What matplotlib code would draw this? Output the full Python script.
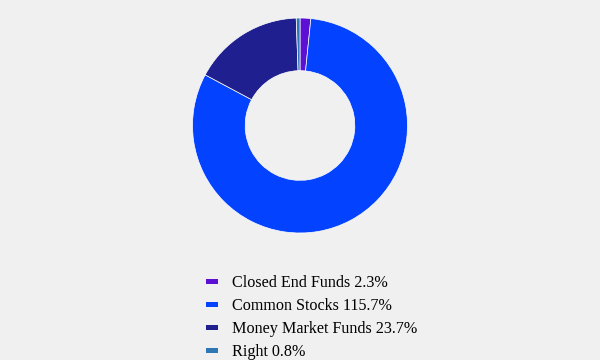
import matplotlib.pyplot as plt
from matplotlib.patches import Patch

labels = ["Closed End Funds", "Common Stocks", "Money Market Funds", "Right"]
values = [2.3, 115.7, 23.7, 0.8]
colors = ["#5c10d4", "#0343ff", "#1f1f8f", "#2e76b4"]

bg = "#f0f0f0"
fig = plt.figure(figsize=(6, 3.6), dpi=100, facecolor=bg)

# donut
ax = fig.add_axes([192.5 / 600, 1 - 233 / 360, 215 / 600, 215 / 360])
ax.set_facecolor(bg)
ax.pie(values, colors=colors, startangle=90, counterclock=False,
       radius=1.0, wedgeprops=dict(width=0.49, edgecolor="white", linewidth=0.5))
ax.set_xlim(-1, 1)
ax.set_ylim(-1, 1)
ax.set_aspect("equal")
ax.axis("off")

# legend
handles = [Patch(facecolor=c, edgecolor="none") for c in colors]
texts = [f"{l} {v}%" for l, v in zip(labels, values)]
leg = fig.legend(handles, texts, loc="upper left", bbox_to_anchor=(206 / 600, 1 - 275 / 360),
                 frameon=False, prop={"family": "Liberation Serif", "size": 11.6},
                 handlelength=0.75, handleheight=0.7, handletextpad=0.85, labelspacing=0.44,
                 borderaxespad=0, borderpad=0)
for p in leg.get_patches():
    y0 = p.get_y()
    h = p.get_height()
    p.set_height(h * 0.45)
    p.set_y(y0 + h * 0.275)

fig.savefig("out.png", dpi=100, facecolor=bg)
